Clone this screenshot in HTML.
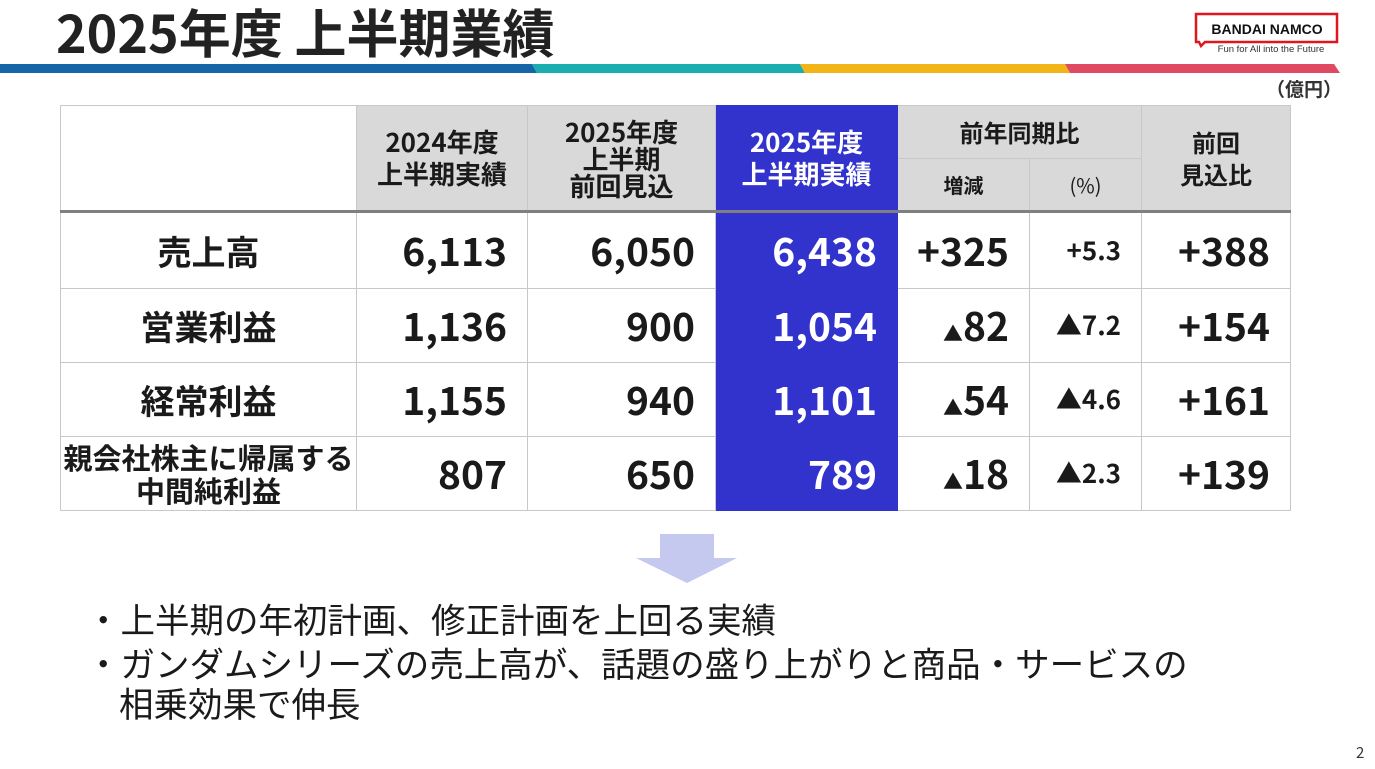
<!DOCTYPE html>
<html><head><meta charset="utf-8"><style>
*{margin:0;padding:0;box-sizing:border-box}
body{width:1375px;height:769px;background:#fff;position:relative;overflow:hidden;font-family:"Noto Sans CJK JP","Liberation Sans",sans-serif;color:#1a1a1a}
.a{position:absolute}
table{position:absolute;left:60px;top:105px;border-collapse:collapse;table-layout:fixed}
td{border:1px solid #c8c8c8;text-align:center;vertical-align:middle;font-weight:bold;padding:0;line-height:1.1}
.h{background:#d9d9d9;font-size:26px;line-height:28px}
.hl{background:#3232cc;color:#fff;border-color:#3232cc}
.v{font-size:39px;text-align:right;padding-right:20px}
.l{font-size:34px}
tr.hb td{border-bottom:3px solid #7f7f7f}
.bul{font-size:34.5px;line-height:40px;font-weight:normal;white-space:nowrap}
.t{font-size:20px}
</style></head><body>
<div class="a" style="left:56px;top:-1px;font-size:52px;font-weight:bold;line-height:64px;color:#222">2025年度 上半期業績</div>
<svg class="a" style="left:0;top:64px" width="1375" height="9">
<polygon points="0,0 532,0 537,9 0,9" fill="#1565a8"/>
<polygon points="532,0 800,0 805,9 537,9" fill="#1aaeb0"/>
<polygon points="800,0 1065,0 1070,9 805,9" fill="#f2b417"/>
<polygon points="1065,0 1334,0 1340,9 1070,9" fill="#df4a62"/>
</svg>
<svg class="a" style="left:1193px;top:12px" width="148" height="45">
<path d="M3,2 H144 V30 H12 L8,34 L6,30 H3 Z" fill="#fff" stroke="#e0161e" stroke-width="2.5"/>
<text x="74" y="22" font-family="Liberation Sans" font-weight="bold" font-size="14" text-anchor="middle" fill="#111">BANDAI NAMCO</text>
<text x="78" y="40" font-family="Liberation Sans" font-size="9.5" text-anchor="middle" fill="#333">Fun for All into the Future</text>
</svg>
<div class="a" style="left:1266px;top:75px;font-size:19px;font-weight:bold;color:#333">（億円）</div>
<table>
<colgroup><col style="width:296px"><col style="width:171px"><col style="width:188px"><col style="width:182px"><col style="width:132px"><col style="width:112px"><col style="width:149px"></colgroup>
<tr class="h" style="height:53px"><td rowspan="2" style="background:#fff;border-bottom:3px solid #7f7f7f"></td><td rowspan="2" style="border-bottom:3px solid #7f7f7f;line-height:32px">2024年度<br>上半期実績</td><td rowspan="2" style="border-bottom:3px solid #7f7f7f;line-height:27px">2025年度<br>上半期<br>前回見込</td><td rowspan="2" class="hl" style="border-bottom:3px solid #7f7f7f;line-height:32px">2025年度<br>上半期実績</td><td colspan="2" style="font-size:24px">前年同期比</td><td rowspan="2" style="border-bottom:3px solid #7f7f7f;line-height:32px;font-size:24px">前回<br>見込比</td></tr>
<tr class="h hb" style="height:53px"><td style="font-size:20px">増減</td><td style="font-size:20px;font-weight:normal">(%)</td></tr>
<tr style="height:77px"><td class="l">売上高</td><td class="v">6,113</td><td class="v">6,050</td><td class="v hl">6,438</td><td class="v">+325</td><td class="v" style="font-size:26px">+5.3</td><td class="v">+388</td></tr>
<tr style="height:74px"><td class="l">営業利益</td><td class="v">1,136</td><td class="v">900</td><td class="v hl">1,054</td><td class="v"><span class="t">▲</span>82</td><td class="v" style="font-size:26px">▲7.2</td><td class="v">+154</td></tr>
<tr style="height:74px"><td class="l">経常利益</td><td class="v">1,155</td><td class="v">940</td><td class="v hl">1,101</td><td class="v"><span class="t">▲</span>54</td><td class="v" style="font-size:26px">▲4.6</td><td class="v">+161</td></tr>
<tr style="height:74px"><td style="font-size:29px;line-height:33px">親会社株主に帰属する<br>中間純利益</td><td class="v">807</td><td class="v">650</td><td class="v hl">789</td><td class="v"><span class="t">▲</span>18</td><td class="v" style="font-size:26px">▲2.3</td><td class="v">+139</td></tr>
</table>
<svg class="a" style="left:636px;top:534px" width="102" height="50"><polygon points="24,0 78,0 78,24 101,24 51,49 0,24 24,24" fill="#c5c8ef"/></svg>
<div class="a bul" style="left:86px;top:598px">・上半期の年初計画、修正計画を上回る実績</div>
<div class="a bul" style="left:86px;top:642px">・ガンダムシリーズの売上高が、話題の盛り上がりと商品・サービスの</div>
<div class="a bul" style="left:119px;top:682px">相乗効果で伸長</div>
<div class="a" style="left:1356px;top:742px;font-size:15px;color:#333">2</div>
</body></html>
